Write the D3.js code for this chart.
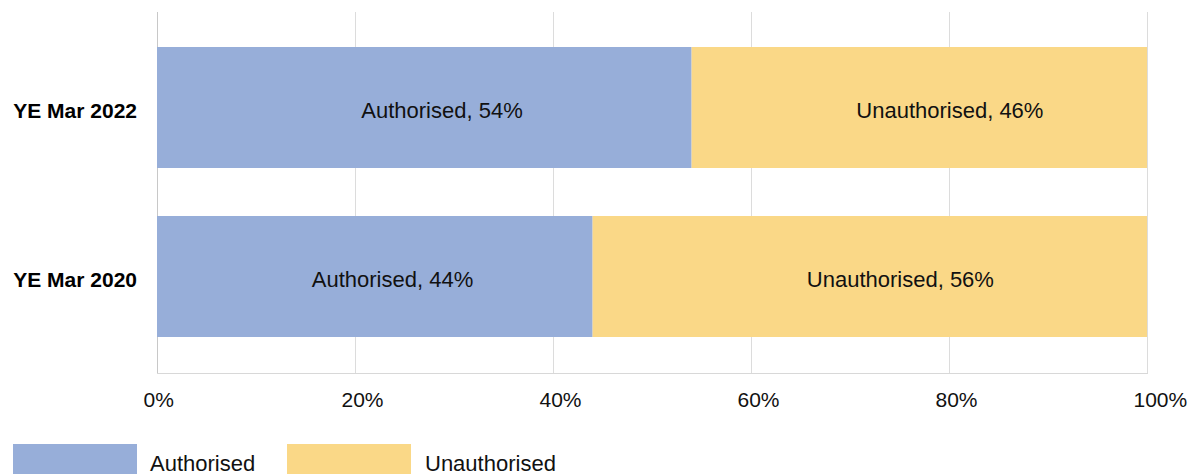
<!DOCTYPE html>
<html>
<head>
<meta charset="utf-8">
<script src="https://cdn.jsdelivr.net/npm/d3@7"></script>
<style>
  body { margin: 0; background: #fff; }
  svg { display: block; font-family: "Liberation Sans", Arial, Helvetica, sans-serif; }
</style>
</head>
<body>
<svg id="chart"></svg>
<script>
// Data
var categories = ['YE Mar 2022', 'YE Mar 2020'];
var seriesNames = ['Authorised', 'Unauthorised'];
var authorised = [54, 44];
var unauthorised = [46, 56];
var xTicks = [0, 20, 40, 60, 80, 100];

var colors = ['#97aed9', '#fad887'];

// Canvas size
var canvasWidth = 1192;
var canvasHeight = 474;

var plot = { left: 157, right: 1147, top: 12, bottom: 373 };

var svg = d3.select('#chart')
  .attr('width', canvasWidth)
  .attr('height', canvasHeight);

// Scales
var xScale = d3.scaleLinear()
  .domain([0, 100])
  .range([plot.left, plot.right]);

var yScale = d3.scaleBand()
  .domain(categories)
  .range([23, 361])
  .paddingInner(0.284)
  .paddingOuter(0.142);

// Grid lines
svg.append('g')
  .classed('grid', true)
  .selectAll('line')
  .data(xTicks)
  .enter()
  .append('line')
  .attr('x1', function(d) { return xScale(d) + 0.5; })
  .attr('x2', function(d) { return xScale(d) + 0.5; })
  .attr('y1', plot.top)
  .attr('y2', plot.bottom)
  .attr('stroke', function(d) { return d === 0 ? '#c8c8c8' : '#dcdcdc'; })
  .attr('stroke-width', 1);

// Bottom line
svg.append('line')
  .attr('x1', plot.left)
  .attr('x2', plot.right + 1)
  .attr('y1', plot.bottom + 0.5)
  .attr('y2', plot.bottom + 0.5)
  .attr('stroke', '#d8d8d8');

// Stacked data
var rows = categories.map(function(c, i) {
  return { category: c, Authorised: authorised[i], Unauthorised: unauthorised[i] };
});
var stacked = d3.stack().keys(seriesNames)(rows);

var layers = svg.append('g')
  .classed('bars', true)
  .selectAll('g')
  .data(stacked)
  .enter()
  .append('g')
  .attr('fill', function(d, i) { return colors[i]; });

layers.selectAll('rect')
  .data(function(d) { return d; })
  .enter()
  .append('rect')
  .attr('x', function(d) { return xScale(d[0]); })
  .attr('y', function(d) { return yScale(d.data.category); })
  .attr('width', function(d) { return xScale(d[1]) - xScale(d[0]); })
  .attr('height', yScale.bandwidth());

// Bar labels (start-anchored a little left of segment centre, as in the original)
stacked.forEach(function(layer) {
  svg.append('g')
    .selectAll('text')
    .data(layer)
    .enter()
    .append('text')
    .attr('x', function(d) { return (xScale(d[0]) + xScale(d[1])) / 2 - 63; })
    .attr('y', function(d) { return yScale(d.data.category) + yScale.bandwidth() / 2 + 10.5; })
    .attr('text-anchor', 'start')
    .attr('font-size', 22)
    .attr('fill', '#111')
    .text(function(d) { return layer.key + ', ' + (d[1] - d[0]) + '%'; });
});

// Category labels
svg.append('g')
  .selectAll('text')
  .data(categories)
  .enter()
  .append('text')
  .attr('x', 137)
  .attr('y', function(d) { return yScale(d) + yScale.bandwidth() / 2 + 10.5; })
  .attr('text-anchor', 'end')
  .attr('font-size', 21)
  .attr('font-weight', 'bold')
  .attr('fill', '#000')
  .text(function(d) { return d; });

// X axis
var xAxis = d3.axisBottom()
  .scale(xScale)
  .tickValues(xTicks)
  .tickSize(0)
  .tickFormat(function(d) { return d + '%'; });

var xAxisGroup = svg.append('g')
  .attr('class', 'x-axis')
  .attr('transform', 'translate(0,' + plot.bottom + ')')
  .call(xAxis);

xAxisGroup.select('.domain').remove();
xAxisGroup.selectAll('text')
  .attr('y', 34)
  .attr('dy', 0)
  .attr('x', -14)
  .attr('text-anchor', 'start')
  .attr('font-size', 21)
  .attr('font-family', '"Liberation Sans", Arial, sans-serif')
  .attr('fill', '#111');

// Legend
var legend = svg.append('g')
  .classed('legend', true)
  .selectAll('g')
  .data(seriesNames)
  .enter()
  .append('g')
  .attr('transform', function(d, i) { return 'translate(' + [13, 287][i] + ',444)'; });

legend.append('rect')
  .attr('width', 124)
  .attr('height', 34)
  .attr('fill', function(d, i) { return colors[i]; });

legend.append('text')
  .attr('x', function(d, i) { return [137, 138][i]; })
  .attr('y', 27)
  .attr('font-size', 22)
  .attr('fill', '#111')
  .text(function(d) { return d; });
</script>
</body>
</html>
